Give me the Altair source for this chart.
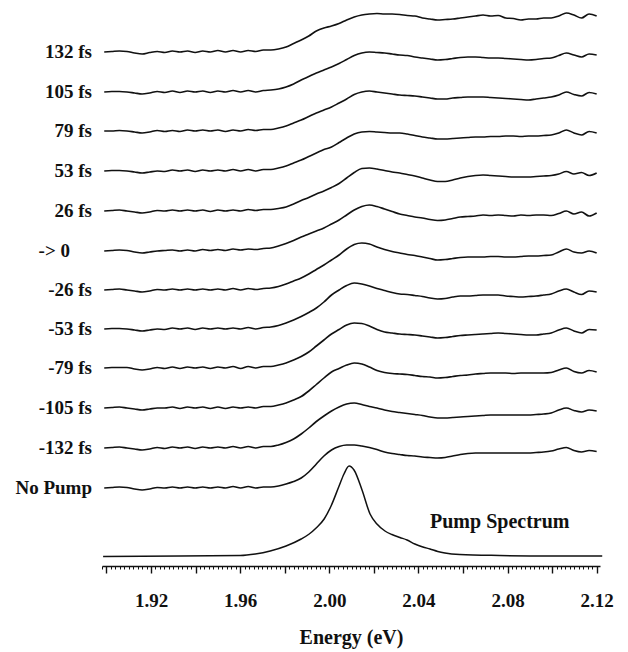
import altair as alt
import pandas as pd

# ---------------- data ----------------
ENERGY = [1.8990, 1.9024, 1.9058, 1.9092, 1.9126, 1.9160, 1.9194, 1.9228, 1.9262, 1.9296,
          1.9330, 1.9364, 1.9398, 1.9432, 1.9466, 1.9500, 1.9534, 1.9568, 1.9602, 1.9636,
          1.9670, 1.9704, 1.9738, 1.9772, 1.9806, 1.9840, 1.9874, 1.9908, 1.9942, 1.9976,
          2.0010, 2.0044, 2.0078, 2.0112, 2.0146, 2.0180, 2.0214, 2.0248, 2.0282, 2.0316,
          2.0350, 2.0384, 2.0418, 2.0452, 2.0486, 2.0520, 2.0554, 2.0588, 2.0622, 2.0656,
          2.0690, 2.0724, 2.0758, 2.0792, 2.0826, 2.0860, 2.0894, 2.0928, 2.0962, 2.0996,
          2.1030, 2.1064, 2.1098, 2.1132, 2.1166, 2.1200]

LABELS = ["132 fs", "105 fs", "79 fs", "53 fs", "26 fs", "-> 0",
          "-26 fs", "-53 fs", "-79 fs", "-105 fs", "-132 fs", "No Pump"]

# vertical offset of each trace (arbitrary units)
OFFSETS = [514, 474, 435, 395, 355, 315, 276, 237, 198, 158, 118, 78]

T_132 = [0, 0.5, 1, 0.5, -1, -2, -0.5, 0.5, -0.5, 1, 0, 1, -0.5, 1, 0, 1.5, 0, 1.5, 0, 1.5, 0.5, 2,
         2, 3, 5, 8.5, 12, 16, 21, 24, 26, 28.5, 32, 35, 37, 38, 38.5, 38, 38, 37.5, 36.5, 36,
         34, 33, 32, 32.5, 33, 34, 35, 36, 37, 36, 36.5, 34, 33.5, 32, 33, 33, 34, 34, 36, 39,
         37, 34, 38, 36]
T_105 = [0, 0.5, 0.5, 0, -1, -2, -1, 0.5, -0.5, 1, -0.5, 1, 0, 1, -0.5, 1, 0, 1.5, 0, 1.5, 0, 1.5,
         2, 3, 5, 8, 12, 15.5, 19, 22, 25, 28.5, 32.5, 36.5, 39, 40, 39.5, 39, 38, 37, 36.5, 35,
         34, 33, 32, 32.5, 33.5, 34.5, 35, 35, 34.5, 34, 34, 33.5, 33, 32.5, 32, 32.5, 33.5, 34,
         36.5, 39, 37, 35, 38, 37]
T_79 = [0, 0, 0.5, 0, -1, -2, -1, 0.5, -0.5, 0.5, -0.5, 1, 0, 1, 0, 1, -0.5, 1, 0, 1.5, 0.5, 1.5,
        1.5, 3, 5, 8, 11, 14.5, 18, 21, 24, 28, 32, 36.5, 39, 40, 39, 38, 37, 36, 35.5, 35,
        34, 33, 32, 32, 33, 33.5, 34, 34, 34, 33.5, 33, 32.5, 32, 31.5, 31, 32, 33, 34,
        36, 39, 36.5, 35, 38.5, 37]
T_53 = [0, 0.5, 0.5, 0, -1, -2, -1, 0, -0.5, 1, 0, 1, -0.5, 1, 0, 1, 0, 1.5, 0, 1.5, 0, 1.5,
        1.5, 3, 5, 8, 11, 14.5, 18, 21.5, 24, 28.5, 33, 37, 39, 39.5, 39, 38.5, 38, 38, 37, 35.5,
        34, 33, 32, 32, 32.5, 33, 33.5, 34, 34, 34.5, 34.5, 35, 35, 34.5, 35, 35, 35.5, 36,
        38, 41, 38, 36, 39.5, 38]
T_26 = [0, 0.5, 1, 0, -1, -2, -1, 0.5, 0, 1, 0, 1, 0, 1, -0.5, 1, 0, 1, 0, 1.5, 0.5, 1.5,
        1.5, 2.5, 4, 7, 10.5, 13.5, 17, 20, 23.5, 27.5, 33, 38.5, 42.5, 43, 42, 40.5, 39, 38, 36.5, 35,
        33, 31, 29.5, 29.5, 31, 33, 34.5, 35.5, 36, 35.5, 35, 34.5, 34, 34, 34, 34.5, 35, 35.5,
        37, 39.5, 37, 38.5, 35.5, 38]
T_0 = [0, 0.5, 1, 0.5, -1, -2, -1, 0, 0.5, 1, 0, 1, 0, 1.5, 0.5, 1.5, 0.5, 2, 1, 2, 1.5, 2.5,
       3, 5, 7.5, 10.5, 14, 17, 20, 23, 27, 31, 36, 41, 44.5, 46, 44.5, 42, 39.5, 37, 35.5, 34,
       33, 31.5, 30.5, 31, 32.5, 34, 34.5, 35, 36, 35.5, 36, 35.5, 35, 36, 35.5, 36, 36, 35.5,
       37.5, 40, 37, 39, 35, 38]
T_M26 = [0, 0.5, 1, 0, -1, -2, -1, 0.5, 0, 1, 0, 1, 0, 1, 0, 1, 0, 1.5, 0, 1.5, 0.5, 1.5,
         2, 3.5, 6, 9, 12, 16, 20.5, 25, 30, 35, 41, 45.5, 47, 46, 43, 40.5, 38.5, 37, 35.5, 34.5,
         33, 31.5, 30, 30.5, 31.5, 32.5, 33, 33, 33, 33.5, 33.5, 33, 33, 33.5, 34, 34, 34.5, 35,
         38, 41, 38, 37, 39, 37]
T_M53 = [0, 0.5, 0.5, 0, -1, -2, -1, 0, -0.5, 1, 0, 1, -0.5, 1, 0, 1, 0, 1, 0, 1.5, 0, 1.5,
         2, 3.5, 6, 9, 12.5, 16.5, 21, 27, 34, 39, 43.5, 46, 45, 43, 40.5, 38.5, 36.5, 35, 34.5, 33.5,
         32.5, 31, 30, 30.5, 32, 33, 33, 33.5, 34, 34, 34, 33, 32.5, 32, 32.5, 33, 34, 35,
         38, 40, 37, 34.5, 38, 37]
T_M79 = [0, 0.5, 0.5, 0.5, -1, -2, -1, 0.5, -0.5, 1, -0.5, 1, 0, 1, -0.5, 1, 0, 1.5, -0.5, 1.5, 0, 1.5,
         1.5, 3, 5, 8, 11.5, 16, 22, 28, 34, 38.5, 43, 45, 44.5, 42, 38.5, 36, 35, 34, 33.5, 33,
         32, 31, 30, 30.5, 31.5, 32.5, 33, 33.5, 34, 34.5, 35, 34.5, 34, 33.5, 33, 33, 34, 35,
         38, 40, 37, 35, 38.5, 38]
T_M105 = [0, 0.5, 1, 0, -1, -2, -1, 0, 0, 1, -0.5, 1, 0, 1, -0.5, 1, -0.5, 1, 0, 1, 0, 1.5,
          1.5, 3, 5, 8, 11.5, 17, 23.5, 30, 36, 39.5, 43, 45, 44, 41, 37.5, 35.5, 34.5, 34, 33.5, 32.5,
          31.5, 31, 30, 30.5, 31.5, 32.5, 33, 34, 34.5, 35, 35, 35, 34.5, 35, 35, 35, 35, 35.5,
          38, 40, 36.5, 35, 37.5, 36]
T_M132 = [0, 0.5, 1, 0, -1, -2, -1, 0.5, -0.5, 1, 0, 1, -0.5, 1, 0, 1, 0, 1.5, 0, 1.5, 0, 1.5,
          1.5, 3, 5.5, 9, 14, 20, 26.5, 32, 37, 41, 44, 45, 43.5, 41.5, 40, 38, 36.5, 35.5, 34.5, 33.5,
          32.5, 31, 30, 30, 30.5, 31, 31.5, 32, 32.5, 33, 33, 33, 33, 33, 33, 33.5, 34, 35,
          38, 40, 37.5, 36, 38, 37]
T_NOPUMP = [0, 0.5, 1, 0.5, -1, -2, -1, 0.5, 0, 1, 0, 1, 0, 1, 0, 1, 0, 1.5, 0, 1.5, 0, 1,
            1, 2, 4, 6.5, 10, 16, 24, 32, 38, 41.5, 43, 43, 42, 40.5, 38.5, 36, 34.5, 33.5, 32.5, 32,
            31, 30.5, 30, 30.5, 32, 33.5, 34.5, 35, 35, 35, 35, 35, 35, 35, 35, 35.5, 36, 37,
            39, 40.5, 37.5, 36, 37.5, 36.5]

TRACES = [T_132, T_105, T_79, T_53, T_26, T_0, T_M26, T_M53, T_M79, T_M105, T_M132, T_NOPUMP]

PUMP_E = [1.8985, 1.9332, 1.9600, 1.9668, 1.9735, 1.9806, 1.9874, 1.9910, 1.9941, 1.9977,
          2.0008, 2.0044, 2.0066, 2.0089, 2.0111, 2.0147, 2.0183, 2.0214, 2.0250, 2.0281,
          2.0317, 2.0349, 2.0384, 2.0420, 2.0452, 2.0487, 2.0519, 2.0586, 2.0765, 2.0989, 2.1225]
PUMP_I = [9.5, 10, 10.5, 12, 15, 20, 27, 32, 38, 47,
          60, 80, 92, 100, 96, 76, 52, 42, 35, 31.5,
          28.5, 26, 22, 19, 17, 14.5, 13, 11.5, 10.5, 10, 10]

ANNOT_TEXT = "Pump Spectrum"
ANNOT_E = 2.0765
ANNOT_Y = 44

TICK_LABELS = ["1.92", "1.96", "2.00", "2.04", "2.08", "2.12"]

# ---------------- build tables ----------------
for t in TRACES:
    assert len(t) == len(ENERGY), len(t)
assert len(PUMP_E) == len(PUMP_I)

rows = []
for lab, off, vals in zip(LABELS, OFFSETS, TRACES):
    for e, v in zip(ENERGY, vals):
        rows.append({"label": lab, "E": e, "y": off + v})
traces_df = pd.DataFrame(rows)
pump_df = pd.DataFrame({"E": PUMP_E, "y": PUMP_I})
labels_df = pd.DataFrame({"label": LABELS, "y": OFFSETS})
annot_df = pd.DataFrame({"t": [ANNOT_TEXT], "E": [ANNOT_E], "y": [ANNOT_Y]})

# tick positions every 0.002 eV (major every 0.02 eV)
tick_values = [round(1.898 + 0.002 * k, 3) for k in range(0, 112)]

FONT = "Liberation Serif"
INK = "#111111"

xscale = alt.Scale(domain=[1.898, 2.1215], nice=False, zero=False)
yscale = alt.Scale(domain=[0, 556], nice=False, zero=False)

label_expr = ("indexof(" + str(TICK_LABELS).replace(" ", "") +
              ", format(datum.value, '.2f')) >= 0 && abs(datum.value * 25 - round(datum.value * 25)) < 0.01"
              " ? format(datum.value, '.2f') : ''")
major_test = "abs(datum.value * 50 - round(datum.value * 50)) < 0.01"

axis = alt.Axis(values=tick_values, tickCount=1000, orient="bottom",
                tickSize={"condition": {"test": major_test, "value": 7}, "value": 3},
                tickWidth={"condition": {"test": major_test, "value": 1.4}, "value": 1},
                tickColor=INK, domainColor=INK, domainWidth=1.6,
                labelExpr=label_expr, labelOverlap=False, labelFlush=False,
                labelFont=FONT, labelFontSize=19,
                labelFontWeight="bold", labelColor=INK, labelPadding=18,
                title="Energy (eV)", titleFont=FONT, titleFontSize=20,
                titleFontWeight="bold", titleColor=INK, titlePadding=17, grid=False)

lines = alt.Chart(traces_df).mark_line(interpolate="monotone", stroke=INK, strokeWidth=1.6).encode(
    x=alt.X("E:Q", scale=xscale, axis=axis),
    y=alt.Y("y:Q", scale=yscale, axis=None),
    detail="label:N",
    order="E:Q",
)

pump = alt.Chart(pump_df).mark_line(interpolate="monotone", stroke=INK, strokeWidth=1.5).encode(
    x=alt.X("E:Q", scale=xscale),
    y=alt.Y("y:Q", scale=yscale),
)

lab_main = alt.Chart(labels_df).transform_filter(alt.datum.label != "-> 0").mark_text(
    align="right", baseline="middle", dx=-10, font=FONT, fontSize=19, fontWeight="bold", color=INK
).encode(x=alt.value(0), y=alt.Y("y:Q", scale=yscale), text="label:N")

lab_zero = alt.Chart(labels_df).transform_filter(alt.datum.label == "-> 0").mark_text(
    align="right", baseline="middle", dx=-32, font=FONT, fontSize=19, fontWeight="bold", color=INK
).encode(x=alt.value(0), y=alt.Y("y:Q", scale=yscale), text="label:N")

annot = alt.Chart(annot_df).mark_text(
    align="center", baseline="middle", font=FONT, fontSize=20, fontWeight="bold", color=INK
).encode(x=alt.X("E:Q", scale=xscale), y=alt.Y("y:Q", scale=yscale), text="t:N")

chart = alt.layer(lines, pump, lab_main, lab_zero, annot).properties(
    width=498, height=556,
    autosize=alt.AutoSizeParams(type="none"),
    padding={"left": 94, "top": 2, "right": 20, "bottom": 88},
    background="white",
).configure_view(stroke="transparent")

chart.save("out.html", embed_options={"renderer": "svg", "actions": False})
